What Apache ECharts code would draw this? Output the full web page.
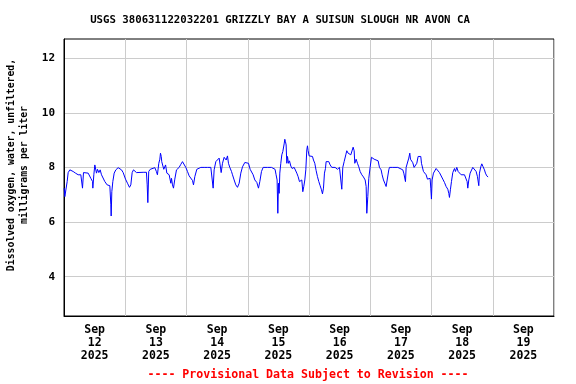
<!DOCTYPE html>
<html>
<head>
<meta charset="utf-8">
<script src="https://cdn.jsdelivr.net/npm/echarts@6/dist/echarts.min.js"></script>
<style>html,body{margin:0;padding:0;background:#fff}#c{width:576px;height:384px}</style>
</head>
<body>
<div id="c"></div>
<script>
const titleText = 'USGS 380631122032201 GRIZZLY BAY A SUISUN SLOUGH NR AVON CA';
const yNameLines = ['Dissolved oxygen, water, unfiltered,', 'milligrams per liter'];
const footerText = '---- Provisional Data Subject to Revision ----';
const dayLabels = ['Sep\n12\n2025','Sep\n13\n2025','Sep\n14\n2025','Sep\n15\n2025','Sep\n16\n2025','Sep\n17\n2025','Sep\n18\n2025','Sep\n19\n2025'];
const yTicks = [4, 6, 8, 10, 12];
// hours since 2025-09-12 00:00
const hours = [0.07,0.33,0.85,1.24,1.63,2.29,2.94,3.59,4.51,5.55,6.59,7.12,7.25,7.64,8.42,9.47,10.51,11.2,11.3,11.69,12.08,12.47,12.73,13.13,13.65,14.17,14.69,15.35,16.0,16.91,17.96,18.35,18.48,18.74,19.13,19.66,20.31,21.22,21.87,22.53,23.18,24.1,24.88,25.66,26.18,26.71,27.23,28.01,28.4,29.06,31.0,32.3,32.6,32.85,33.2,33.8,34.5,35.6,36.2,36.6,37.15,37.55,37.8,38.1,38.3,38.7,39.1,39.8,40.3,40.8,
41.2,41.86,42.12,42.51,42.9,43.42,44.08,44.47,45.12,45.77,46.43,47.08,47.73,48.39,49.04,49.69,50.35,50.74,51.26,52.04,52.7,53.61,54.26,54.92,55.57,56.22,56.88,57.53,58.05,58.44,58.83,59.49,60.14,60.79,61.18,61.58,62.1,62.75,63.01,63.54,64.06,64.45,64.97,65.63,66.02,66.67,67.32,67.98,68.63,69.28,69.94,70.85,71.63,72.29,72.94,73.46,74.11,74.77,75.55,76.2,76.73,77.38,78.03,79.73,81.3,82.08,
82.7,83.1,83.5,83.78,84.04,84.3,84.56,84.95,85.35,85.74,86.26,86.52,86.78,87.04,87.3,87.57,87.96,88.35,88.87,89.39,90.18,90.7,91.22,91.74,92.27,92.79,93.18,93.57,93.96,94.36,94.75,95.14,95.4,95.66,96.05,96.7,97.36,97.75,98.27,98.8,99.32,99.84,100.36,100.89,101.28,101.67,102.06,102.45,102.71,103.24,103.76,104.28,104.94,106.24,107.15,107.94,108.46,108.85,109.24,109.77,110.42,110.81,111.33,111.86,112.38,112.9,113.29,113.69,113.95,114.47,114.99,115.51,116.04,116.69,117.34,118.0,118.39,118.65,119.04,119.43,119.95,120.48,121.0,121.52,122.3,123.09,123.61,
124.26,124.65,125.18,125.7,126.22,126.61,127.0,127.27,127.53,128.83,130.79,131.45,132.75,133.14,133.8,134.06,134.71,135.1,135.49,135.76,136.15,136.67,137.19,137.71,138.24,138.76,139.28,139.8,140.07,140.59,140.85,141.37,141.89,142.42,142.94,143.46,143.72,143.98,144.24,144.77,145.29,145.81,146.47,147.12,147.77,148.43,149.08,149.73,150.39,150.78,151.04,151.43,151.82,152.34,153.0,153.39,153.91,154.44,154.96,155.61,156.92,157.57,157.96,158.22,158.61,159.14,159.66,160.18,160.83,161.49,162.01,162.53,162.79,163.31,163.71,164.23,164.75,165.14,165.66,166.18];
const values = [7.24,6.93,6.99,7.48,7.81,7.91,7.93,7.85,7.79,7.73,7.73,7.79,7.24,7.81,7.82,7.79,7.60,7.48,7.24,7.73,8.09,8.13,7.79,7.93,7.81,7.91,7.73,7.66,7.48,7.36,7.33,6.63,6.22,7.11,7.48,7.79,7.91,7.99,8.0,7.91,7.81,7.57,7.42,7.27,7.36,7.81,7.91,7.88,7.81,7.82,7.82,7.82,7.36,6.71,7.85,7.93,8.0,7.99,7.85,7.73,8.15,8.30,8.52,8.40,8.21,8.27,7.93,8.09,7.79,7.85,
7.73,7.42,7.6,7.36,7.24,7.57,7.91,7.85,8.0,8.11,8.21,8.17,8.0,7.85,7.69,7.65,7.52,7.36,7.66,7.93,8.0,8.0,7.93,8.0,7.93,8.0,7.93,8.0,7.93,7.24,7.91,8.21,8.24,8.34,8.09,7.81,8.15,8.37,8.42,8.27,8.42,8.15,8.0,7.85,7.73,7.54,7.36,7.27,7.42,7.79,8.02,8.18,8.21,8.15,7.93,7.91,7.73,7.54,7.45,7.24,7.48,7.85,8.0,8.0,8.0,7.96,
7.93,7.73,7.54,6.32,7.42,7.05,7.79,8.15,8.46,8.58,8.86,9.03,8.94,8.82,8.15,8.4,8.15,8.24,8.05,7.96,8.0,8.0,7.79,7.66,7.48,7.42,7.54,7.11,7.3,7.54,7.91,8.64,8.79,8.61,8.42,8.42,8.4,8.27,8.15,7.88,7.66,7.48,7.33,7.18,7.03,7.24,7.79,7.96,8.21,8.17,8.21,8.09,8.0,8.0,7.93,8.0,7.93,7.2,8.0,8.21,8.46,8.61,8.52,8.54,8.46,8.4,8.74,8.61,8.15,8.3,8.15,8.02,7.85,7.73,7.65,7.54,7.3,6.32,6.93,7.6,8.0,8.37,8.4,8.3,8.3,8.24,8.0,
7.91,7.73,7.54,7.42,7.3,7.24,7.36,7.91,8.0,8.0,8.0,7.93,7.91,7.79,7.48,8.0,8.0,8.34,8.52,8.3,8.34,8.17,8.0,8.0,8.15,8.4,8.42,8.4,8.15,8.09,7.85,7.79,7.73,7.57,7.52,7.6,7.24,6.84,7.54,7.79,7.85,7.96,7.93,7.81,7.79,7.57,7.45,7.3,7.2,7.05,6.9,7.2,7.48,7.81,7.96,7.85,8.0,7.85,7.81,7.73,7.73,7.66,7.48,7.24,7.54,7.79,7.85,8.0,7.93,7.85,7.66,7.33,7.79,8.02,8.13,8.02,7.91,7.79,7.69,7.65];

const DAY = 86400000;
const base = Date.UTC(2025, 8, 12);
const seriesData = hours.map((h, i) => [base + h * 3600000, values[i]]);
const FONT = '"DejaVu Sans Mono", monospace';

const chart = echarts.init(document.getElementById('c'), null, {renderer: 'canvas'});
chart.setOption({
  animation: false,
  backgroundColor: '#ffffff',
  grid: {left: 64, right: 22, top: 39, bottom: 68, show: true, borderColor: '#000', borderWidth: 1, backgroundColor: 'transparent'},
  xAxis: [{
    type: 'value', min: base, max: base + 8 * DAY, interval: DAY,
    axisLine: {show: true, lineStyle: {color: '#000', width: 1}},
    axisTick: {show: false}, axisLabel: {show: false},
    splitLine: {show: true, lineStyle: {color: '#cccccc', width: 1}}
  }, {
    type: 'category', data: dayLabels, boundaryGap: true, position: 'bottom', offset: 0,
    axisLine: {show: false}, axisTick: {show: false}, splitLine: {show: false},
    axisLabel: {interval: 0, color: '#000', fontFamily: FONT, fontWeight: 'bold', fontSize: 11.5, lineHeight: 13, margin: 8}
  }],
  yAxis: {
    type: 'value', min: 2.56, max: 12.7,
    axisLine: {show: true, lineStyle: {color: '#000', width: 1}},
    axisTick: {show: false, customValues: yTicks},
    axisLabel: {customValues: yTicks, color: '#000', fontFamily: FONT, fontWeight: 'bold', fontSize: 11, margin: 9},
    splitLine: {show: true, lineStyle: {color: '#cccccc', width: 1}}
  },
  series: [{
    type: 'line', xAxisIndex: 0, data: seriesData, showSymbol: false, symbol: 'none',
    lineStyle: {color: '#0000ff', width: 1}, itemStyle: {color: '#0000ff'}
  }],
  graphic: [{
    type: 'text', x: 280, y: 20,
    style: {text: titleText, textAlign: 'center', textVerticalAlign: 'middle', align: 'center', verticalAlign: 'middle', fontFamily: FONT, fontWeight: 'bold', fontSize: 10.7, fill: '#000'}
  }, {
    type: 'text', x: 18, y: 165, rotation: Math.PI / 2,
    style: {text: yNameLines.join('\n'), textAlign: 'center', textVerticalAlign: 'middle', align: 'center', verticalAlign: 'middle', lineHeight: 13, fontFamily: FONT, fontWeight: 'bold', fontSize: 9.8, fill: '#000'}
  }, {
    type: 'text', x: 308, y: 375,
    style: {text: footerText, textAlign: 'center', textVerticalAlign: 'middle', align: 'center', verticalAlign: 'middle', fontFamily: FONT, fontWeight: 'bold', fontSize: 11.6, fill: '#ff0000'}
  }]
});
</script>
</body>
</html>
